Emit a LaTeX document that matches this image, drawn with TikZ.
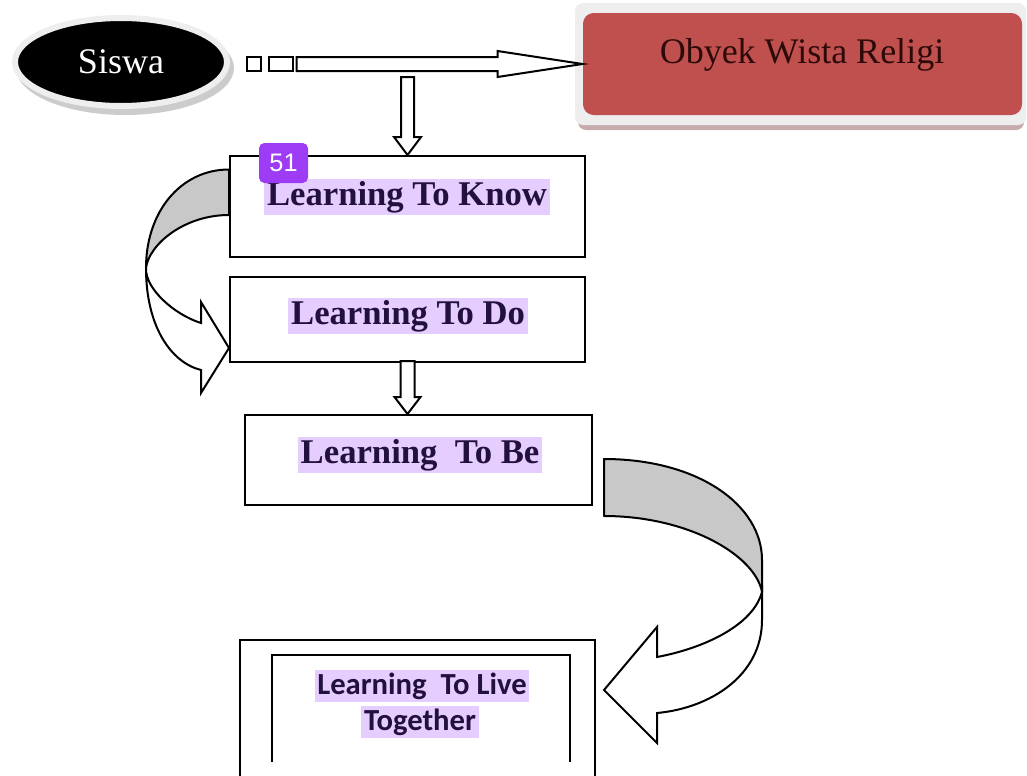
\documentclass[tikz,border=0pt]{standalone}
\usepackage{fontspec}
\setmainfont{Liberation Serif}
\setsansfont{Liberation Sans}
\newfontfamily\calibrifont{Carlito}
\usetikzlibrary{shapes.geometric,calc}

\definecolor{obyekred}{RGB}{192,80,77}
\definecolor{obyekink}{RGB}{45,10,10}
\definecolor{hilite}{RGB}{230,205,255}
\definecolor{inkpurple}{RGB}{34,16,62}
\definecolor{badgepurple}{RGB}{158,60,245}
\definecolor{framegray}{RGB}{238,238,238}
\definecolor{bandgray}{RGB}{200,200,200}

\tikzset{every picture/.style={line width=0.75pt}}
\tikzset{
  stepbox/.style={draw, line width=1.5pt, fill=white, inner sep=0pt},
  steptext/.style={fill=hilite, text=inkpurple, inner xsep=2pt, inner ysep=1.5pt, font=\fontsize{26}{30}\selectfont\bfseries},
  livetext/.style={fill=hilite, text=inkpurple, inner xsep=2pt, inner ysep=2pt, font=\calibrifont\fontsize{23}{27}\selectfont\bfseries},
  blockarrow/.style={draw, line width=1.5pt, fill=white, line join=miter},
  bandback/.style={draw, line width=1.5pt, fill=bandgray, line join=round},
  bandfront/.style={draw, line width=1.5pt, fill=white, line join=miter},
  badge/.style={fill=badgepurple, rounded corners=4pt, minimum width=36.75pt, minimum height=30pt, text=white, font=\sffamily\fontsize{19}{21}\selectfont}
}

\begin{document}
\begin{tikzpicture}[x=0.75pt,y=0.75pt,yscale=-1,xscale=1]
\useasboundingbox (0,0) rectangle (1027,775);
\clip (0,0) rectangle (1027,775);

% Siswa
\node [ellipse, fill=gray!40, minimum width=163.5pt, minimum height=70.5pt] (siswashade) at (125,68) {};
\node [ellipse, fill=black, draw=framegray, line width=4.5pt, minimum width=159pt, minimum height=66pt, text=white, font=\fontsize{27}{30}\selectfont] (siswa) at (121,62) {Siswa};

% Obyek Wista Religi
\node [rounded corners=6pt, fill={rgb,255:red,200; green,172; blue,172}, minimum width=334.5pt, minimum height=94.5pt] (obyekshade) at (801,67) {};
\node [rounded corners=6pt, fill=framegray, minimum width=338.25pt, minimum height=91.5pt] (obyekframe) at (800.5,64) {};
\node [rounded corners=8pt, fill=obyekred, minimum width=329.25pt, minimum height=76.5pt] (obyek) at (802.5,64) {};
\node [text=obyekink, font=\fontsize{27}{30}\selectfont] (obyektxt) at (802,55) {Obyek Wista Religi};

% learning boxes
\node [stepbox, minimum width=266.25pt, minimum height=75.75pt] (know) at (407.5,206.5) {};
\node [steptext] (knowtxt) at (407,197) {Learning To Know};
\node [stepbox, minimum width=266.25pt, minimum height=63.75pt] (do) at (407.5,319.5) {};
\node [steptext] (dotxt) at (408,316) {Learning To Do};
\node [stepbox, minimum width=260.25pt, minimum height=67.5pt] (be) at (418.5,460) {};
\node [steptext] (betxt) at (420,455) {Learning\ \ To Be};
\node [stepbox, minimum width=266.25pt, minimum height=112.5pt] (live) at (417.5,715) {};
\draw [line width=1.5pt] ($(live.north west)+(33,123)$) |- ($(live.north west)+(182,16)$) -| ($(live.north west)+(331,123)$);
\node [livetext] (livetxta) at (422,686) {Learning\ \ To Live};
\node [livetext] (livetxtb) at (420,722) {Together};

% Siswa to Obyek
\draw [blockarrow] ($(siswa.east)+(17,-5)$) rectangle ++(14,14);
\draw [blockarrow] ($(siswa.east)+(39,-5)$) rectangle ++(24,14);
\draw [blockarrow] (obyek.west) -- ++(-85,-13) -- ++(0,6) -- ++(-201,0) -- ++(0,14) -- ++(201,0) -- ++(0,6) -- cycle;

% down to Know
\draw [blockarrow] (know.north) -- ++(-13.5,-18) -- ++(7,0) -- ++(0,-60) -- ++(13,0) -- ++(0,60) -- ++(7,0) -- cycle;
% Do to Be
\draw [blockarrow] (do.south |- be.north) -- ++(-13,-17) -- ++(6,0) -- ++(0,-36) -- ++(14,0) -- ++(0,36) -- ++(6,0) -- cycle;

% Know to Do
\begin{scope}[shift={(know.west)}]
\draw [bandback] (0,-37) .. controls (-48,-37) and (-83,5) .. (-83,61.5) .. controls (-80,38) and (-45,8.5) .. (0,8.5) -- cycle;
\draw [bandfront] (-83,61.5) .. controls (-83,120) and (-58,156) .. (-28,163.5) -- (-28,186.5) -- (0,141.5) -- (-28,95.5) -- (-28,116.5) .. controls (-55,108) and (-84,82) .. (-83,61.5) -- cycle;
\end{scope}

% Be to Live
\begin{scope}[shift={(be.east)}]
\draw [bandback] (11,-1) .. controls (105,-1) and (169,45) .. (169,100) -- (169,132) .. controls (162,95) and (95,56) .. (11,56) -- cycle;
\draw [bandfront] (169,132) -- (169,160) .. controls (169,215) and (118,248) .. (64,253) -- (64,283) -- (11,230) -- (64,167) -- (64,197) .. controls (112,188) and (160,165) .. (169,132) -- cycle;
\end{scope}

% badge
\node [badge] (badge) at (283.5,163) {51};

\end{tikzpicture}
\end{document}
